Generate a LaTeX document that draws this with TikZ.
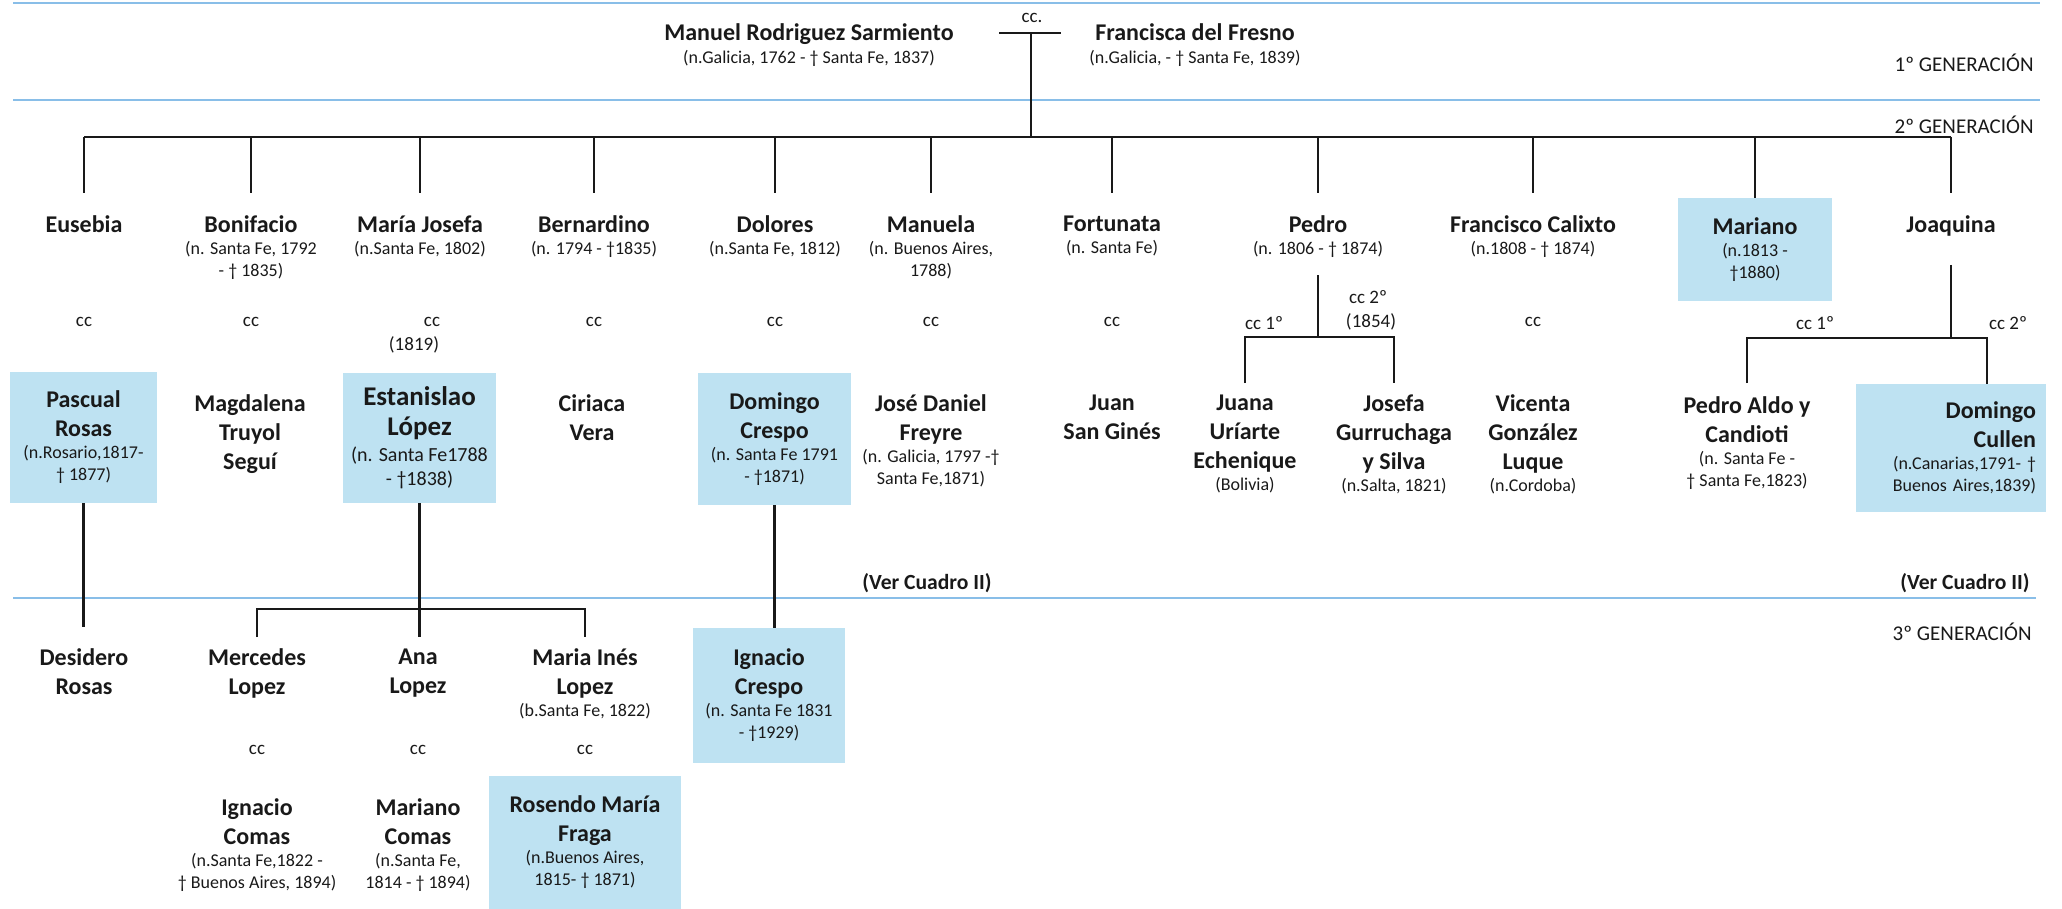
\documentclass[tikz,border=0pt]{standalone}
\usepackage{fontspec}
\setmainfont{Carlito}
\definecolor{rulebl}{RGB}{137,190,232}
\definecolor{boxbl}{RGB}{190,226,242}
\definecolor{ink}{RGB}{25,25,25}
\newcommand{\nm}[1]{{\fontsize{12}{12}\selectfont\bfseries #1}}
\newcommand{\bignm}[1]{{\fontsize{13.5}{13.5}\selectfont\bfseries #1}}

\begin{document}
\begin{tikzpicture}[x=0.5pt,y=-0.5pt,every node/.style={text=ink},
  person/.style={anchor=north,align=center,inner sep=0pt,font=\fontsize{9}{11}\selectfont},
  kin/.style={fill=boxbl,align=center,inner sep=0pt,font=\fontsize{9}{11}\selectfont},
  cclab/.style={inner sep=0pt,font=\fontsize{9.5}{11}\selectfont},
  genlab/.style={anchor=east,inner sep=0pt,font=\fontsize{10.5}{12}\selectfont},
  seecuadro/.style={inner sep=0pt,font=\fontsize{10.8}{12}\selectfont\bfseries},
  genrule/.style={draw=rulebl,line width=1pt},
  kinline/.style={draw=ink,line width=1.3pt},
  subline/.style={draw=ink,line width=0.8pt}]
\useasboundingbox (0,0) rectangle (2062,909);
\draw[genrule] (13,3) -- (2040,3);
\draw[genrule] (13,100) -- (2040,100);
\draw[genrule] (13,598) -- (2036,598);
\node[genlab] (gen1) at (2034,63) {1º GENERACIÓN};
\node[genlab] (gen2) at (2034,125) {2º GENERACIÓN};
\node[genlab] (gen3) at (2032,632) {3º GENERACIÓN};
\node[seecuadro] (ver1) at (927,583) {(Ver Cuadro II)};
\node[seecuadro,anchor=east] (ver2) at (2030,583) {(Ver Cuadro II)};

\node[person] (manuel) at (809,23) {\nm{Manuel Rodriguez Sarmiento}\\[0.5pt](n.Galicia, 1762 - † Santa Fe, 1837)};
\node[person] (francisca) at (1195,23) {\nm{Francisca del Fresno}\\[0.5pt](n.Galicia, - † Santa Fe, 1839)};
\node[cclab] (cc0) at (1032,18) {cc.};
\coordinate (couple) at (1031,33);
\coordinate (gbar) at (1031,137);
\draw[kinline] ([xshift=-16pt]couple) -- ([xshift=15pt]couple);
\draw[kinline] (couple) -- (gbar);

\node[person] (eusebia) at (84,215.5) {\nm{Eusebia}};
\node[person] (bonifacio) at (251,215.5) {\nm{Bonifacio}\\(n. Santa Fe, 1792\\- † 1835)};
\node[person] (mariajosefa) at (420,215.5) {\nm{María Josefa}\\(n.Santa Fe, 1802)};
\node[person] (bernardino) at (594,215.5) {\nm{Bernardino}\\(n. 1794 - †1835)};
\node[person] (dolores) at (775,215.5) {\nm{Dolores}\\(n.Santa Fe, 1812)};
\node[person] (manuela) at (931,215.5) {\nm{Manuela}\\(n. Buenos Aires,\\1788)};
\node[person] (fortunata) at (1112,215.5) {\nm{Fortunata}\\(n. Santa Fe)};
\node[person] (pedro) at (1318,215.5) {\nm{Pedro}\\(n. 1806 - † 1874)};
\node[person] (francisco) at (1533,215.5) {\nm{Francisco Calixto}\\(n.1808 - † 1874)};
\node[kin,minimum width=77pt,minimum height=51.5pt] (mariano) at (1755,249.5) {\nm{Mariano}\\(n.1813 -\\†1880)};
\node[person] (joaquina) at (1951,215.5) {\nm{Joaquina}};

\draw[kinline] (eusebia.north |- gbar) -- (joaquina.north |- gbar);
\draw[kinline,shorten >=11.25pt] (eusebia.north |- gbar) -- (eusebia.north);
\draw[kinline,shorten >=11.25pt] (bonifacio.north |- gbar) -- (bonifacio.north);
\draw[kinline,shorten >=11.25pt] (mariajosefa.north |- gbar) -- (mariajosefa.north);
\draw[kinline,shorten >=11.25pt] (bernardino.north |- gbar) -- (bernardino.north);
\draw[kinline,shorten >=11.25pt] (dolores.north |- gbar) -- (dolores.north);
\draw[kinline,shorten >=11.25pt] (manuela.north |- gbar) -- (manuela.north);
\draw[kinline,shorten >=11.25pt] (fortunata.north |- gbar) -- (fortunata.north);
\draw[kinline,shorten >=11.25pt] (pedro.north |- gbar) -- (pedro.north);
\draw[kinline,shorten >=11.25pt] (francisco.north |- gbar) -- (francisco.north);
\draw[kinline] (mariano.north |- gbar) -- (mariano.north);
\draw[kinline,shorten >=11.25pt] (joaquina.north |- gbar) -- (joaquina.north);

\node[cclab] (cceusebia) at (84,322) {cc};
\node[cclab] (ccbonifacio) at (251,322) {cc};
\node[cclab] (ccmariajosefa) at (432,322) {cc};
\node[cclab] (yr1819) at (414,345) {(1819)};
\node[cclab] (ccbernardino) at (594,322) {cc};
\node[cclab] (ccdolores) at (775,322) {cc};
\node[cclab] (ccmanuela) at (931,322) {cc};
\node[cclab] (ccfortunata) at (1112,322) {cc};
\node[cclab] (ccpedro1) at (1264,323) {cc 1º};
\node[cclab] (ccpedro2) at (1368,297) {cc 2º};
\node[cclab] (yr1854) at (1371,322) {(1854)};
\node[cclab] (ccfrancisco) at (1533,322) {cc};
\node[cclab] (ccjoaquina1) at (1815,323) {cc 1º};
\node[cclab] (ccjoaquina2) at (2008,323) {cc 2º};

\node[kin,minimum width=73.5pt,minimum height=65.5pt] (pascual) at (83.5,437.5) {\nm{Pascual}\\[3.5pt]\nm{Rosas}\\(n.Rosario,1817-\\† 1877)};
\node[person] (magdalena) at (250,394.5) {\nm{Magdalena}\\[3.5pt]\nm{Truyol}\\[3.5pt]\nm{Seguí}};
\node[kin,minimum width=76.5pt,minimum height=65pt,font=\fontsize{10}{12}\selectfont] (estanislao) at (419.5,438) {\bignm{Estanislao}\\[3pt]\bignm{López}\\[1pt](n. Santa Fe1788\\- †1838)};
\node[person] (ciriaca) at (592,394.5) {\nm{Ciriaca}\\[3.5pt]\nm{Vera}};
\node[kin,minimum width=76.5pt,minimum height=66pt] (domingocr) at (774.5,439) {\nm{Domingo}\\[3.5pt]\nm{Crespo}\\(n. Santa Fe 1791\\- †1871)};
\node[person] (josedaniel) at (931,394.5) {\nm{José Daniel}\\[3.5pt]\nm{Freyre}\\(n. Galicia, 1797 -†\\Santa Fe,1871)};
\node[person] (juan) at (1112,394.5) {\nm{Juan}\\[3.5pt]\nm{San Ginés}};
\node[person] (juana) at (1245,394.5) {\nm{Juana}\\[3.5pt]\nm{Uríarte}\\[3.5pt]\nm{Echenique}\\(Bolivia)};
\node[person] (josefa) at (1394,394.5) {\nm{Josefa}\\[3.5pt]\nm{Gurruchaga}\\[3.5pt]\nm{y Silva}\\(n.Salta, 1821)};
\node[person] (vicenta) at (1533,394.5) {\nm{Vicenta}\\[3.5pt]\nm{González}\\[3.5pt]\nm{Luque}\\(n.Cordoba)};
\node[person] (pedroaldo) at (1747,396.5) {\nm{Pedro Aldo y}\\[3.5pt]\nm{Candioti}\\(n. Santa Fe -\\† Santa Fe,1823)};
\node[kin,align=right,text width=85pt,inner xsep=5pt,minimum height=64pt] (domingocu) at (1951,448) {\nm{Domingo}\\[3.5pt]\nm{Cullen}\\(n.Canarias,1791- †\\Buenos Aires,1839)};

\coordinate (pedrocc) at (1318,337);
\draw[subline,shorten <=8.5pt] (pedro.south) -- (pedrocc);
\draw[subline,shorten <=5.75pt,shorten >=5.75pt] (juana.north) |- (pedrocc) -| (josefa.north);
\coordinate (joaqcc) at (1951,338);
\draw[subline,shorten <=14pt] (joaquina.south) -- (joaqcc);
\draw[subline,shorten <=6.75pt] (pedroaldo.north) |- (joaqcc) -| ([xshift=18pt]domingocu.north);

\node[person] (desidero) at (84,648.5) {\nm{Desidero}\\[3.5pt]\nm{Rosas}};
\node[person] (mercedes) at (257,648.5) {\nm{Mercedes}\\[3.5pt]\nm{Lopez}};
\node[person] (ana) at (418,648.5) {\nm{Ana}\\[3.5pt]\nm{Lopez}};
\node[person] (mariaines) at (585,648.5) {\nm{Maria Inés}\\[3.5pt]\nm{Lopez}\\(b.Santa Fe, 1822)};
\node[kin,minimum width=76pt,minimum height=67.5pt] (ignaciocr) at (769,695.5) {\nm{Ignacio}\\[3.5pt]\nm{Crespo}\\(n. Santa Fe 1831\\- †1929)};

\draw[kinline,shorten >=10.75pt] (pascual.south) -- (pascual.south |- desidero.north);
\draw[kinline,shorten >=5.75pt] (estanislao.south) -- (estanislao.south |- ana.north);
\coordinate (lbar) at (420,609);
\draw[kinline,shorten <=5.75pt,shorten >=5.75pt] (mercedes.north) |- (lbar) -| (mariaines.north);
\draw[kinline] (domingocr.south) -- (domingocr.south |- ignaciocr.north);

\node[cclab] (ccmercedes) at (257,750) {cc};
\node[cclab] (ccana) at (418,750) {cc};
\node[cclab] (ccmariaines) at (585,750) {cc};

\node[person] (ignaciocom) at (257,798.5) {\nm{Ignacio}\\[3.5pt]\nm{Comas}\\(n.Santa Fe,1822 -\\† Buenos Aires, 1894)};
\node[person] (marianocom) at (418,798.5) {\nm{Mariano}\\[3.5pt]\nm{Comas}\\(n.Santa Fe,\\1814 - † 1894)};
\node[kin,minimum width=96pt,minimum height=66.5pt] (rosendo) at (585,842.5) {\nm{Rosendo María}\\[3.5pt]\nm{Fraga}\\(n.Buenos Aires,\\1815- † 1871)};
\end{tikzpicture}
\end{document}
